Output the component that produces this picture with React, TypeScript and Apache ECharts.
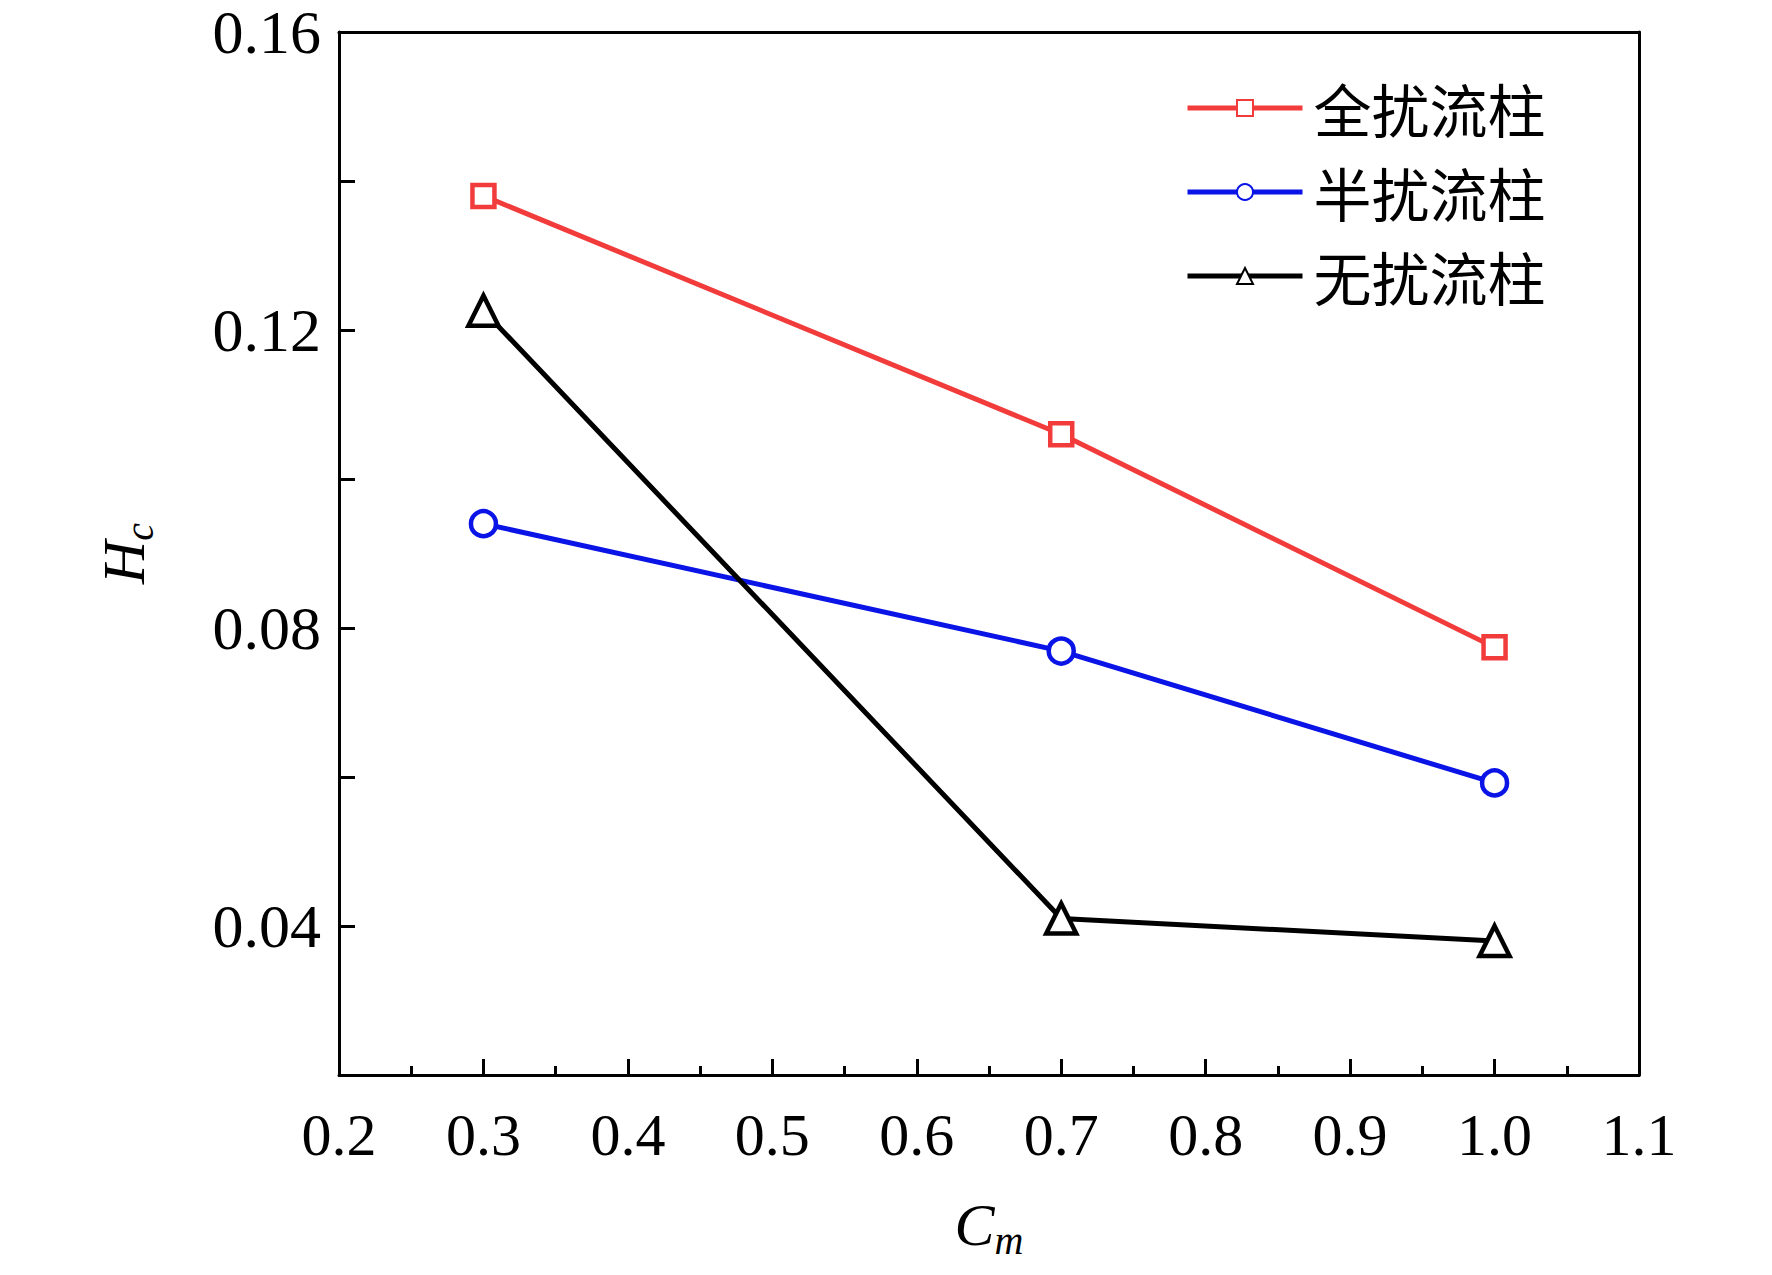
import React, { useEffect, useRef } from "react";
import * as echarts from "echarts";

const xValues = [0.3, 0.7, 1.0];
const fullValues = [0.138, 0.106, 0.0774];
const halfValues = [0.094, 0.0769, 0.0592];
const noneValues = [0.1226, 0.041, 0.038];
const seriesNames = ["全扰流柱", "半扰流柱", "无扰流柱"];

const SERIF = '"Liberation Serif", "Times New Roman", serif';

const App: React.FC = () => {
    const ref = useRef<HTMLDivElement | null>(null);

    useEffect(() => {
        if (!ref.current) return;
        const chart = echarts.init(ref.current, null, { renderer: "svg" });
        const mk = (name: string, vals: number[], color: string, symbol: string, size: number) => ({
            name,
            type: "line" as const,
            data: xValues.map((x, i) => [x, vals[i]]),
            symbol,
            symbolSize: size,
            lineStyle: { color, width: 5 },
            itemStyle: { color: "#fff", borderColor: color, borderWidth: 4.5 },
        });
        const baseX = {
            type: "value" as const, min: 0.2, max: 1.1, interval: 0.1,
            axisLine: { lineStyle: { color: "#000", width: 3 } },
            splitLine: { show: false },
        };
        const baseY = {
            type: "value" as const, min: 0.02, max: 0.16, interval: 0.02,
            axisLine: { lineStyle: { color: "#000", width: 3 } },
            splitLine: { show: false },
        };
        const rich = {
            i: { fontFamily: SERIF, fontStyle: "italic", fontSize: 60, color: "#000" },
            s: { fontFamily: SERIF, fontStyle: "italic", fontSize: 40, color: "#000", verticalAlign: "bottom", padding: [30, 0, 0, 0] },
        };
        chart.setOption({
            animation: false,
            backgroundColor: "#fff",
            grid: { left: 339, right: 133, top: 32, bottom: 200 },
            legend: {
                left: 1180, top: 74, orient: "vertical", itemGap: 26,
                itemWidth: 115, itemHeight: 20,
                lineStyle: { width: 5 },
                textStyle: { fontFamily: '"Noto Sans CJK SC"', fontSize: 58, color: "#000", padding: [0, 0, 0, 6] },
                data: seriesNames,
            },
            xAxis: [
                {
                    ...baseX, position: "bottom",
                    name: "{i|C}{s|m}", nameLocation: "middle", nameGap: 115,
                    nameTextStyle: { rich },
                    axisTick: { inside: true, length: 16, lineStyle: { width: 3, color: "#000" } },
                    minorTick: { show: true, splitNumber: 2, length: 9, lineStyle: { width: 3, color: "#000" } },
                    axisLabel: { fontFamily: SERIF, fontSize: 60, color: "#000", margin: 30, formatter: (v: number) => v.toFixed(1) },
                },
                { ...baseX, position: "top", axisTick: { show: false }, axisLabel: { show: false } },
            ],
            yAxis: [
                {
                    ...baseY, position: "left",
                    name: "{i|H}{s|c}", nameLocation: "middle", nameGap: 180, nameRotate: 90,
                    nameTextStyle: { rich },
                    axisTick: { inside: true, length: 16, lineStyle: { width: 3, color: "#000" } },
                    axisLabel: {
                        fontFamily: SERIF, fontSize: 62, color: "#000", margin: 18,
                        formatter: (v: number) => (Math.round(v * 100) % 4 === 0 ? v.toFixed(2) : ""),
                    },
                },
                { ...baseY, position: "right", axisTick: { show: false }, axisLabel: { show: false } },
            ],
            series: [
                mk(seriesNames[0], fullValues, "#f23b3b", "rect", 22),
                mk(seriesNames[1], halfValues, "#0a14e6", "circle", 25),
                mk(seriesNames[2], noneValues, "#000000", "triangle", 30),
            ],
        });
        return () => chart.dispose();
    }, []);

    return <div ref={ref} style={{ position: "absolute", left: 0, top: 0, width: 1772, height: 1275 }} />;
};

export default App;
